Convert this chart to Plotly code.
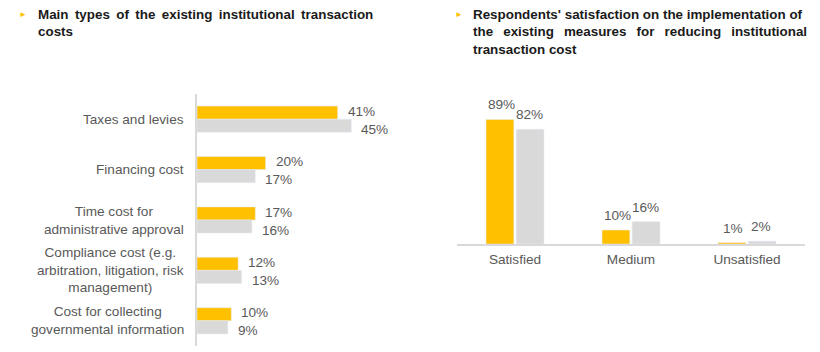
import plotly.graph_objects as go

# Left chart data
cost_types = ["Taxes and levies", "Financing cost", "Time cost for<br>administrative approval",
              "Compliance cost (e.g.<br>arbitration, litigation, risk<br>management)",
              "Cost for collecting<br>governmental information"]
cost_a = [41, 20, 17, 12, 10]
cost_b = [45, 17, 16, 13, 9]

# Right chart data
satisfaction = ["Satisfied", "Medium", "Unsatisfied"]
sat_a = [89, 10, 1]
sat_b = [82, 16, 2]

TS = "\u2009"  # thin space used to mimic justified title lines
WS = " \u00a0" + TS
title_left = ("Main " + TS + "types " + TS + "of " + TS + "the " + TS + "existing " + TS +
              "institutional " + TS + "transaction<br>costs")
title_right = ("Respondents' satisfaction on the implementation of<br>"
               "the" + WS + "existing" + WS + "measures" + WS + "for" + WS + "reducing" + WS +
               "institutional<br>"
               "transaction cost")

YELLOW = "#FFC000"
GREY = "#D9D9D9"
TXT = "#595959"
FONT = "Liberation Sans, Arial, sans-serif"
FS = 13.6

fig = go.Figure()
fig.add_trace(go.Bar(y=cost_types, x=cost_a, orientation="h", marker_color=YELLOW,
                     xaxis="x", yaxis="y", showlegend=False))
fig.add_trace(go.Bar(y=cost_types, x=cost_b, orientation="h", marker_color=GREY,
                     xaxis="x", yaxis="y", showlegend=False))
fig.add_trace(go.Bar(x=satisfaction, y=sat_a, marker_color=YELLOW,
                     xaxis="x2", yaxis="y2", showlegend=False))
fig.add_trace(go.Bar(x=satisfaction, y=sat_b, marker_color=GREY,
                     xaxis="x2", yaxis="y2", showlegend=False))

W, H = 820, 352
ann = []
# left category labels (centered multi-line)
for c in cost_types:
    ann.append(dict(x=0, xref="x domain", y=c, yref="y", text=c, showarrow=False,
                    xanchor="right", xshift=-11, align="center",
                    font=dict(size=FS, color=TXT, family=FONT)))
# left value labels
for c, a, b in zip(cost_types, cost_a, cost_b):
    ann.append(dict(x=a, xref="x", y=c, yref="y", text=f"{a}%", showarrow=False,
                    xanchor="left", xshift=8, yshift=8, font=dict(size=FS, color=TXT, family=FONT)))
    ann.append(dict(x=b, xref="x", y=c, yref="y", text=f"{b}%", showarrow=False,
                    xanchor="left", xshift=8, yshift=-10, font=dict(size=FS, color=TXT, family=FONT)))
# right value labels
for c, a, b in zip(satisfaction, sat_a, sat_b):
    ann.append(dict(x=c, xref="x2", y=a, yref="y2", text=f"{a}%", showarrow=False,
                    xanchor="center", yanchor="bottom", xshift=-14, yshift=5,
                    font=dict(size=FS, color=TXT, family=FONT)))
    ann.append(dict(x=c, xref="x2", y=b, yref="y2", text=f"{b}%", showarrow=False,
                    xanchor="center", yanchor="bottom", xshift=14, yshift=5,
                    font=dict(size=FS, color=TXT, family=FONT)))
# titles
ann.append(dict(x=17 / W, xref="paper", y=1 - 14 / H, yref="paper", text="►", showarrow=False,
                xanchor="left", yanchor="middle", font=dict(size=8, color=YELLOW, family=FONT)))
ann.append(dict(x=36 / W, xref="paper", y=1 - 5 / H, yref="paper", text=f"<b>{title_left}</b>",
                showarrow=False, xanchor="left", yanchor="top", align="left",
                font=dict(size=13.4, color="#1a1a1a", family=FONT)))
ann.append(dict(x=453 / W, xref="paper", y=1 - 14 / H, yref="paper", text="►", showarrow=False,
                xanchor="left", yanchor="middle", font=dict(size=8, color=YELLOW, family=FONT)))
ann.append(dict(x=471 / W, xref="paper", y=1 - 5 / H, yref="paper", text=f"<b>{title_right}</b>",
                showarrow=False, xanchor="left", yanchor="top", align="left",
                font=dict(size=13.4, color="#1a1a1a", family=FONT)))

fig.update_layout(
    width=W, height=H, margin=dict(l=0, r=0, t=0, b=0),
    paper_bgcolor="white", plot_bgcolor="white",
    barmode="group", bargap=0.48, bargroupgap=0,
    font=dict(family=FONT, size=FS, color=TXT),
    annotations=ann,
    xaxis=dict(domain=[197 / W, 368.5 / W], range=[0, 50], visible=False, fixedrange=True),
    yaxis=dict(domain=[1 - 346 / H, 1 - 94 / H], autorange="reversed", showticklabels=False,
               showline=True, linecolor=GREY, linewidth=1.5, showgrid=False, zeroline=False,
               ticks=""),
    xaxis2=dict(domain=[457 / W, 805 / W], anchor="y2", showline=True, linecolor=GREY, linewidth=1.5,
                showgrid=False, ticks="", ticklabelstandoff=2,
                tickfont=dict(size=FS, color=TXT, family=FONT)),
    yaxis2=dict(domain=[1 - 244 / H, 1 - 104 / H], anchor="x2", range=[0, 100], visible=False),
)
fig.update_traces(selector=dict(xaxis="x2"), width=0.24)
fig.update_traces(selector=dict(xaxis="x"), width=0.26)

fig.write_html("out.html")
